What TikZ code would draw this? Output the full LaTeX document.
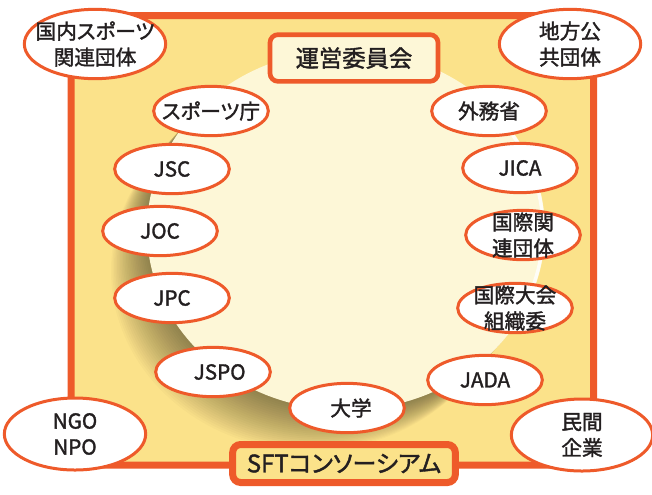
\documentclass[tikz,border=0pt]{standalone}
\usepackage{fontspec}
\setmainfont{Noto Sans CJK JP}[RawFeature=+palt, FakeBold=1.6]
\usetikzlibrary{shapes.geometric}
\definecolor{sftorange}{HTML}{EE5A2A}
\definecolor{sftyellow}{HTML}{FBE28A}
\definecolor{sftcream}{HTML}{FDF7D7}
\definecolor{sfttext}{HTML}{231F20}
\begin{document}
\begin{tikzpicture}[x=0.75pt,y=-0.75pt,
  member/.style={shape=ellipse, draw=sftorange, line width=2.25pt, fill=white,
    inner sep=-40pt, minimum width=86pt, minimum height=37pt, text=sfttext,
    align=center, font=\fontsize{15.5}{19.5}\selectfont},
  partner/.style={member, minimum width=106pt, minimum height=52pt},
  board/.style={draw=sftorange, rounded corners=6pt, text=sfttext, inner sep=0pt,
    font=\fontsize{17}{20}\selectfont}
]
\useasboundingbox (0,0) rectangle (652,494);

% background frame, shadow and circle
\fill[sftyellow, rounded corners=24pt] (71,15.5) rectangle (593.5,465);
\foreach \k in {1,...,24}
  \fill[black, opacity=0.021] ({346-1.5*\k},{230+1.7*\k}) ellipse [x radius=199, y radius=180];
\fill[sftcream] (346,230) ellipse [x radius=199, y radius=180];
\draw[white, line width=2.5pt, opacity=0.8] (346,230) ++(-35:197 and 178)
  arc [start angle=-35, end angle=35, x radius=197, y radius=178];
\draw[sftorange, line width=5.25pt, rounded corners=24pt] (71,15.5) rectangle (593.5,465);

% boxes
\node[board, line width=3.5pt, fill=sftcream, minimum width=126pt, minimum height=35pt,
  font=\fontsize{17.5}{20}\selectfont] (unei) at (354,58) {運営委員会};
\node[board, line width=5.25pt, fill=sftyellow, minimum width=167pt, minimum height=28.5pt,
  font=\fontsize{18}{20}\selectfont] (sft) at (344,463.5) {SFTコンソーシアム};

% members in the circle
\node[member] (agency) at (211,111) {スポーツ庁};
\node[member] (jsc) at (172,169) {JSC};
\node[member] (joc) at (160,231) {JOC};
\node[member] (jpc) at (172,298) {JPC};
\node[member] (jspo) at (213,372) {\hspace{10pt}JSPO};
\node[member] (univ) at (347,408) {\hspace{6pt}大学};
\node[member] (jada) at (485,380) {JADA};
\node[member] (games) at (515,308) {国際大会\\組織委};
\node[member] (intl) at (523,235) {国際関\\連団体};
\node[member] (jica) at (520,168) {JICA};
\node[member] (mofa) at (489,111) {外務省};

% partners on the corners
\node[partner] (domestic) at (95,44) {国内スポーツ\\関連団体};
\node[partner] (local) at (570,44) {地方公\\共団体};
\node[partner, minimum height=54pt] (ngo) at (75,434) {NGO\\NPO};
\node[partner, minimum height=54pt] (company) at (582,435) {民間\\企業};

\end{tikzpicture}
\end{document}
